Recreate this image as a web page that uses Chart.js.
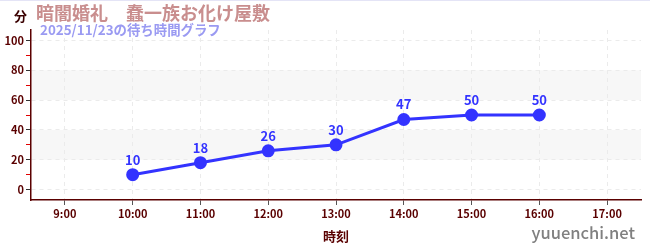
<!DOCTYPE html>
<html lang="ja">
<head>
  <meta charset="utf-8">
  <title>待ち時間グラフ</title>
  <script src="https://cdn.jsdelivr.net/npm/chart.js"></script>
  <style>
    html, body { margin: 0; padding: 0; background: #fff; }
    #wrap { width: 650px; height: 250px; }
  </style>
</head>
<body>
<div id="wrap"><canvas id="waitChart"></canvas></div>
<script>
  // data
  const hours = [10, 11, 12, 13, 14, 15, 16];
  const waits = [10, 18, 26, 30, 47, 50, 50];
  const xTicks = [9, 10, 11, 12, 13, 14, 15, 16, 17];
  const yTicks = [0, 10, 20, 30, 40, 50, 60, 70, 80, 90, 100];
  const bands = [[20, 40], [60, 80]];

  const titleText = '暗闇婚礼　蠢一族お化け屋敷';
  const subText = '2025/11/23の待ち時間グラフ';
  const font = '"Noto Sans CJK JP", "Noto Sans", sans-serif';
  const axisRed = '#5a0000';
  const blue = '#3333ff';

  const decor = {
    id: 'decor',
    beforeDraw(chart) {
      const ctx = chart.ctx, a = chart.chartArea, y = chart.scales.y;
      ctx.save();
      ctx.fillStyle = '#f7f7f7';
      bands.forEach(b => {
        const top = y.getPixelForValue(b[1]), bot = y.getPixelForValue(b[0]);
        ctx.fillRect(a.left, top, a.right - a.left, bot - top);
      });
      ctx.fillStyle = '#e4e4f6';
      ctx.fillRect(0, 0, chart.width, 1);
      ctx.restore();
    },
    afterDatasetsDraw(chart) {
      const ctx = chart.ctx;
      const meta = chart.getDatasetMeta(0);
      ctx.save();
      ctx.fillStyle = blue;
      ctx.font = 'bold 13px ' + font;
      ctx.textAlign = 'center';
      ctx.textBaseline = 'middle';
      meta.data.forEach((p, i) => {
        ctx.fillText(String(waits[i]), p.x, p.y - 15);
      });
      ctx.restore();
    },
    afterDraw(chart) {
      const ctx = chart.ctx;
      ctx.save();
      ctx.textBaseline = 'middle';
      ctx.fillStyle = '#3a0000';
      ctx.font = 'bold 13px ' + font;
      ctx.fillText('分', 14, 16);
      ctx.fillStyle = '#c98e8e';
      ctx.font = 'bold 18px ' + font;
      ctx.fillText(titleText, 36, 13);
      ctx.fillStyle = '#9a9af2';
      ctx.font = 'bold 13.4px ' + font;
      ctx.fillText(subText, 40, 30);
      ctx.fillStyle = '#808080';
      ctx.font = '500 16.5px ' + font;
      ctx.textAlign = 'right';
      ctx.fillText('yuuenchi.net', 635, 233);
      ctx.restore();
    }
  };

  new Chart(document.getElementById('waitChart'), {
    type: 'line',
    data: {
      datasets: [{
        data: hours.map((h, i) => ({ x: h, y: waits[i] })),
        borderColor: blue,
        backgroundColor: blue,
        borderWidth: 3,
        pointRadius: 5,
        pointHoverRadius: 5,
        tension: 0
      }]
    },
    options: {
      responsive: true,
      maintainAspectRatio: false,
      animation: false,
      layout: { padding: { top: 30, right: 9, left: 0, bottom: 0 } },
      plugins: { legend: { display: false }, tooltip: { enabled: false } },
      scales: {
        x: {
          type: 'linear',
          min: 8.5,
          max: 17.5,
          afterBuildTicks: s => { s.ticks = xTicks.map(v => ({ value: v })); },
          afterFit: s => { s.height = 50; },
          border: { color: axisRed, width: 1.5, dash: [4, 4] },
          grid: { color: '#ebebeb', tickColor: '#555', tickLength: 5, tickBorderDash: [] },
          ticks: {
            color: axisRed,
            font: { family: font, size: 11, weight: 'bold' },
            padding: 2,
            maxRotation: 0,
            callback: v => v + ':00'
          },
          title: {
            display: true,
            text: '時刻',
            color: axisRed,
            font: { family: font, size: 13, weight: 'bold' },
            padding: { top: 4, bottom: 6 }
          }
        },
        y: {
          min: -7,
          max: 107,
          afterBuildTicks: s => { s.ticks = yTicks.map(v => ({ value: v })); },
          afterFit: s => { s.width = 31; },
          border: { color: axisRed, width: 1.5, dash: [4, 4] },
          grid: {
            color: c => (c.tick && c.tick.value % 20 === 0) ? '#ebebeb' : 'rgba(0,0,0,0)',
            tickColor: c => (c.tick && c.tick.value % 20 === 0) ? '#333' : '#e00000',
            tickLength: 5,
            tickBorderDash: []
          },
          ticks: {
            color: axisRed,
            font: { family: font, size: 11, weight: 'bold' },
            padding: 2,
            callback: v => v % 20 === 0 ? String(v) : ''
          }
        }
      }
    },
    plugins: [decor]
  });
</script>
</body>
</html>
